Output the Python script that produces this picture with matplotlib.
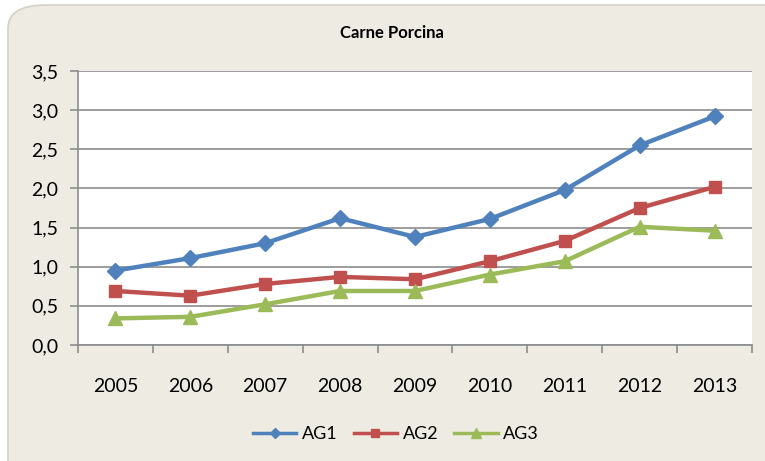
import matplotlib
matplotlib.use("Agg")
import matplotlib.pyplot as plt
from matplotlib.patches import FancyBboxPatch

# data
years = ["2005", "2006", "2007", "2008", "2009", "2010", "2011", "2012", "2013"]
ag1 = [0.95, 1.11, 1.30, 1.62, 1.38, 1.61, 1.98, 2.55, 2.92]
ag2 = [0.69, 0.63, 0.78, 0.87, 0.84, 1.07, 1.33, 1.75, 2.02]
ag3 = [0.34, 0.36, 0.52, 0.69, 0.69, 0.90, 1.07, 1.51, 1.46]
series_names = ["AG1", "AG2", "AG3"]
yticks = [0.0, 0.5, 1.0, 1.5, 2.0, 2.5, 3.0, 3.5]

plt.rcParams["font.family"] = ["Lato", "DejaVu Sans"]

fig = plt.figure(figsize=(7.65, 4.61), dpi=100)
fig.patch.set_facecolor("white")

# rounded chart frame
W, H = 765, 461
frame = FancyBboxPatch((8 / W, -0.1), 1.2, 1.1 - 5 / H,
                       boxstyle="round,pad=0,rounding_size=0.05",
                       transform=fig.transFigure, facecolor="#EEECE2",
                       edgecolor="#D4D2C6", linewidth=1.2, zorder=-10)
fig.patches.append(frame)

ax = fig.add_axes([78 / W, 1 - 345 / H, (752 - 78) / W, (345 - 71) / H])
ax.set_facecolor("white")

x = list(range(len(years)))
styles = [
    (ag1, "#4F81BD", "D", 8),
    (ag2, "#C0504D", "s", 9),
    (ag3, "#9BBB59", "^", 10),
]
for (vals, color, marker, ms), name in zip(styles, series_names):
    ax.plot(x, vals, color=color, marker=marker, markersize=ms,
            linewidth=3.2, label=name, zorder=3)

ax.set_xlim(-0.5, len(years) - 0.5)
ax.set_ylim(0, 3.5)
ax.set_yticks(yticks)
ax.set_yticklabels([f"{v:.1f}".replace(".", ",") for v in yticks], fontsize=14)
ax.yaxis.grid(True, color="#8C8C8C", linewidth=1.2)
ax.set_axisbelow(True)

ax.set_xticks([i - 0.5 for i in range(len(years) + 1)])
ax.set_xticklabels([])
ax.set_xticks(x, minor=True)
ax.set_xticklabels(years, minor=True, fontsize=14)
ax.tick_params(axis="x", which="major", length=6, color="#8C8C8C", width=1.2)
ax.tick_params(axis="x", which="minor", length=0, pad=24)
ax.tick_params(axis="y", length=6, color="#8C8C8C", width=1.2, pad=8)

for side in ["top", "right"]:
    ax.spines[side].set_visible(False)
for side in ["left", "bottom"]:
    ax.spines[side].set_color("#8C8C8C")
    ax.spines[side].set_linewidth(1.2)

fig.text(392 / W, 1 - 33 / H, "Carne Porcina", ha="center", va="center",
         fontsize=12, fontweight="bold")

leg = fig.legend(loc="center", bbox_to_anchor=(396 / W, 1 - 434 / H), ncol=3,
                 frameon=False, fontsize=13, handlelength=2.4, columnspacing=0.9,
                 handletextpad=0.3, markerscale=0.7)
for line in leg.get_lines():
    line.set_linewidth(2.5)

fig.savefig("out.png", dpi=100)
